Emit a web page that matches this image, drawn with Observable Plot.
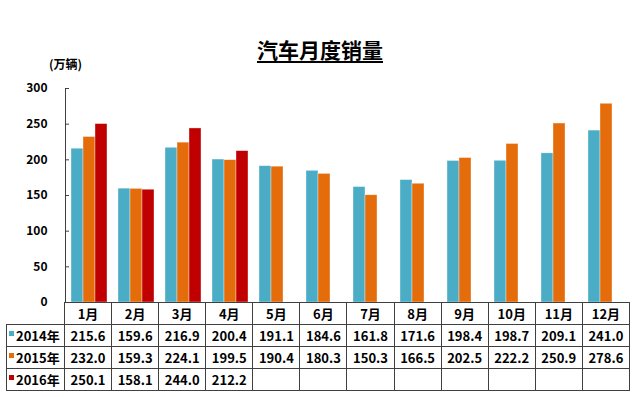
<!DOCTYPE html>
<html>
<head>
<meta charset="utf-8">
<script src="https://cdn.jsdelivr.net/npm/d3@7"></script>
<script src="https://cdn.jsdelivr.net/npm/@observablehq/plot@0.6"></script>
<style>
  body { margin: 0; background: #fff; }
  #wrap { position: relative; width: 640px; height: 397px; background: #fff; overflow: hidden; font-family: "Noto Sans CJK SC", sans-serif; }
  #title { position: absolute; left: 0; width: 640px; top: 34px; text-align: center; font-size: 21px; font-weight: bold; text-decoration: underline; text-underline-offset: 3px; color: #000; }
  #unit { position: absolute; left: 49px; top: 55px; font-size: 12px; font-weight: bold; color: #000; }
  #chart { position: absolute; left: 0; top: 0; }
  #tbl { position: absolute; left: 6px; top: 302px; border-collapse: collapse; table-layout: fixed; width: 623px; font-size: 13px; font-weight: bold; color: #000; }
  #tbl td { border: 1px solid #404040; height: 21px; padding: 0; text-align: center; white-space: nowrap; line-height: 21px; }
  #tbl td.blank { border: none; background: transparent; }
  #tbl td.leg { text-align: left; padding-left: 2px; }
  .sw { display: inline-block; width: 5px; height: 5px; margin-right: 2px; vertical-align: 5px; }
</style>
</head>
<body>
<div id="wrap">
  <div id="chart"></div>
  <div id="title">汽车月度销量</div>
  <div id="unit">(万辆)</div>
  <table id="tbl"></table>
</div>
<script>
const months = ["1月","2月","3月","4月","5月","6月","7月","8月","9月","10月","11月","12月"];
const series = ["2014年","2015年","2016年"];
const v2014 = [215.6,159.6,216.9,200.4,191.1,184.6,161.8,171.6,198.4,198.7,209.1,241.0];
const v2015 = [232.0,159.3,224.1,199.5,190.4,180.3,150.3,166.5,202.5,222.2,250.9,278.6];
const v2016 = [250.1,158.1,244.0,212.2];
const yTicks = [0,50,100,150,200,250,300];
const colors = ["#4BACC6","#E46C0A","#C00000"];

const valuesBySeries = [v2014, v2015, v2016];
const data = [];
valuesBySeries.forEach((vals, si) => {
  vals.forEach((v, mi) => data.push({month: months[mi], series: series[si], value: v}));
});

const chart = Plot.plot({
  width: 640,
  height: 312,
  marginTop: 88,
  marginBottom: 10,
  marginLeft: 64,
  marginRight: 11,
  style: {fontFamily: "'Noto Sans CJK SC', sans-serif", background: "transparent"},
  fx: {domain: months, padding: 0, axis: null},
  x: {domain: series, paddingInner: 0, paddingOuter: 0.38, axis: null},
  y: {domain: [0, 300], axis: null},
  color: {domain: series, range: colors},
  marks: [
    Plot.barY(data, {fx: "month", x: "series", y: "value", fill: "series", stroke: "#ffffff", strokeWidth: 0.6, strokeOpacity: 0.6}),
    Plot.frame({anchor: "left", facetAnchor: "left", stroke: "#404040"}),
    Plot.axisY({ticks: yTicks, tickSize: 4, dx: 4, label: null, tickFormat: () => "", stroke: "#404040"}),
    Plot.axisY({ticks: yTicks, tickSize: 0, tickPadding: 18, label: null, fontWeight: "bold", fontSize: 12, fill: "#000"})
  ]
});
document.getElementById("chart").appendChild(chart);

// data table below the chart
const tbl = document.getElementById("tbl");
const colgroup = document.createElement("colgroup");
const c0 = document.createElement("col"); c0.style.width = "58px"; colgroup.appendChild(c0);
months.forEach(() => { const c = document.createElement("col"); c.style.width = (565 / 12) + "px"; colgroup.appendChild(c); });
tbl.appendChild(colgroup);
const head = document.createElement("tr");
const blank = document.createElement("td"); blank.className = "blank"; head.appendChild(blank);
months.forEach(m => { const td = document.createElement("td"); td.textContent = m; head.appendChild(td); });
tbl.appendChild(head);
series.forEach((s, si) => {
  const tr = document.createElement("tr");
  const lab = document.createElement("td"); lab.className = "leg";
  const sw = document.createElement("span"); sw.className = "sw"; sw.style.background = colors[si];
  lab.appendChild(sw); lab.appendChild(document.createTextNode(s));
  tr.appendChild(lab);
  months.forEach((m, mi) => {
    const td = document.createElement("td");
    const v = valuesBySeries[si][mi];
    td.textContent = v === undefined ? "" : v.toFixed(1);
    tr.appendChild(td);
  });
  tbl.appendChild(tr);
});
</script>
</body>
</html>
